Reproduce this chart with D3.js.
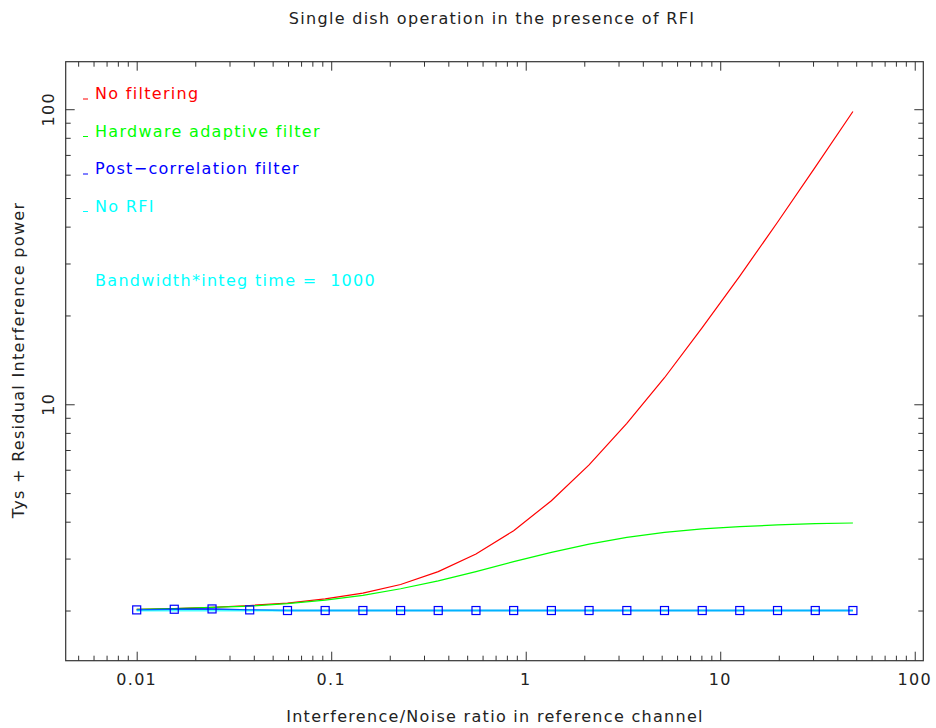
<!DOCTYPE html>
<html>
<head>
<meta charset="utf-8">
<script src="https://cdn.jsdelivr.net/npm/d3@7"></script>
<style>
  body { margin: 0; background: #fff; }
  text { font-family: "DejaVu Sans", sans-serif; letter-spacing: 1.3px; }
</style>
</head>
<body>
<script>
// interference/noise ratio at each computed point
const ratio = [0.01, 0.0156, 0.0244, 0.0381, 0.0596, 0.0931, 0.1455, 0.2274, 0.355, 0.555,
  0.867, 1.355, 2.117, 3.31, 5.17, 8.08, 12.6, 19.7, 30.8, 48.1];
const noFiltering = [2.02, 2.03, 2.05, 2.08, 2.12, 2.19, 2.29, 2.45, 2.71, 3.11,
  3.73, 4.71, 6.23, 8.62, 12.3, 18.2, 27.2, 41.4, 63.6, 98.2];
const hardwareFilter = [2.02, 2.03, 2.05, 2.07, 2.11, 2.17, 2.25, 2.37, 2.52, 2.71,
  2.93, 3.15, 3.36, 3.54, 3.68, 3.78, 3.85, 3.90, 3.94, 3.96];
const postCorrelation = [2.01, 2.02, 2.025, 2.01, 2.0, 2.0, 2.0, 2.0, 2.0, 2.0,
  2.0, 2.0, 2.0, 2.0, 2.0, 2.0, 2.0, 2.0, 2.0, 2.0];
const noRFI = [2.0, 2.0, 2.0, 2.0, 2.0, 2.0, 2.0, 2.0, 2.0, 2.0,
  2.0, 2.0, 2.0, 2.0, 2.0, 2.0, 2.0, 2.0, 2.0, 2.0];

const legendLabels = ["No filtering", "Hardware adaptive filter", "Post\u2212correlation filter", "No RFI"];
const legendColors = ["#ff0000", "#00ff00", "#0000ff", "#00ffff"];
const xTickLabels = ["0.01", "0.1", "1", "10", "100"];
const yTickLabels = ["10", "100"];

const margin = { top: 61.7, bottom: 67.3, left: 65.7, right: 12.7 };
const width = 936 - margin.left - margin.right;
const height = 728 - margin.top - margin.bottom;

const svg = d3.select("body").append("svg").attr("width", 936).attr("height", 728);
const g = svg.append("g").attr("transform", `translate(${margin.left}, ${margin.top})`);

const xscale = d3.scaleLog().domain([Math.pow(10, -2.365), Math.pow(10, 2.044)]).range([0, width]);
const yscale = d3.scaleLog().domain([Math.pow(10, 0.131), Math.pow(10, 2.161)]).range([height, 0]);

// minor ticks = 2..9 inside each visible decade
const minorTicks = (scale) => {
  const [a, b] = scale.domain();
  const out = [];
  for (let e = Math.floor(Math.log10(a)); e <= Math.ceil(Math.log10(b)); e++) {
    for (let m = 2; m <= 9; m++) {
      const v = m * Math.pow(10, e);
      if (v > a && v < b) out.push(v);
    }
  }
  return out;
};
const xMajor = xTickLabels.map(Number);
const yMajor = yTickLabels.map(Number);
const axisColor = "#333";

// frame
g.append("rect").attr("width", width).attr("height", height)
  .attr("fill", "none").attr("stroke", axisColor).attr("stroke-width", 1.2);

const addTicks = (axis, values, len, transform) => {
  const a = g.append("g").attr("transform", transform).call(axis.tickValues(values).tickSize(len).tickFormat(""));
  a.select(".domain").remove();
  a.selectAll("line").attr("stroke", axisColor);
};
// inward ticks on all four sides
addTicks(d3.axisBottom(xscale), xMajor, -9, `translate(0,${height})`);
addTicks(d3.axisBottom(xscale), minorTicks(xscale), -5, `translate(0,${height})`);
addTicks(d3.axisTop(xscale), xMajor, -9, "translate(0,0)");
addTicks(d3.axisTop(xscale), minorTicks(xscale), -5, "translate(0,0)");
addTicks(d3.axisLeft(yscale), yMajor, -9, "translate(0,0)");
addTicks(d3.axisLeft(yscale), minorTicks(yscale), -5, "translate(0,0)");
addTicks(d3.axisRight(yscale), yMajor, -9, `translate(${width},0)`);
addTicks(d3.axisRight(yscale), minorTicks(yscale), -5, `translate(${width},0)`);

// tick labels
g.selectAll(".xlab").data(xTickLabels).join("text")
  .attr("x", (d) => xscale(+d)).attr("y", height + 24)
  .attr("text-anchor", "middle").attr("font-size", 16).attr("fill", "#222")
  .text((d) => d);
g.selectAll(".ylab").data(yTickLabels).join("text")
  .attr("transform", (d) => `translate(-12,${yscale(+d)}) rotate(-90)`)
  .attr("text-anchor", "middle").attr("font-size", 16).attr("fill", "#222")
  .text((d) => d);

// titles
svg.append("text").attr("x", 492).attr("y", 24).attr("text-anchor", "middle")
  .attr("font-size", 16).attr("fill", "#222").text("Single dish operation in the presence of RFI");
svg.append("text").attr("x", 495).attr("y", 722).attr("text-anchor", "middle")
  .attr("font-size", 16).attr("fill", "#222").text("Interference/Noise ratio in reference channel");
svg.append("text").attr("transform", "translate(24,360) rotate(-90)").attr("text-anchor", "middle")
  .attr("font-size", 16).attr("fill", "#222").text("Tys + Residual Interference power");

// lines
const line = (vals) => d3.line().x((d, i) => xscale(ratio[i])).y((d) => yscale(d))(vals);
g.append("path").attr("d", line(noFiltering)).attr("fill", "none").attr("stroke", "#ff0000").attr("stroke-width", 1.2);
g.append("path").attr("d", line(hardwareFilter)).attr("fill", "none").attr("stroke", "#00ff00").attr("stroke-width", 1.2);
g.append("path").attr("d", line(postCorrelation)).attr("fill", "none").attr("stroke", "#0000ff").attr("stroke-width", 1.5);
g.append("path").attr("d", line(noRFI)).attr("fill", "none").attr("stroke", "#00ffff").attr("stroke-width", 2)
  .attr("opacity", 0.7);

g.selectAll(".mark").data(postCorrelation).join("rect")
  .attr("x", (d, i) => xscale(ratio[i]) - 4).attr("y", (d) => yscale(d) - 4)
  .attr("width", 8).attr("height", 8)
  .attr("fill", "none").attr("stroke", "#0000ff").attr("stroke-width", 1.2);

// legend
const leg = svg.append("g");
legendLabels.forEach((lab, i) => {
  const y = 99 + i * 37.5;
  leg.append("line").attr("x1", 83).attr("x2", 88).attr("y1", y).attr("y2", y)
    .attr("stroke", legendColors[i]).attr("stroke-width", 1);
  leg.append("text").attr("x", 95).attr("y", y).attr("font-size", 16)
    .attr("fill", legendColors[i]).text(lab);
});
leg.append("text").attr("x", 95).attr("y", 286).attr("font-size", 16)
  .attr("fill", "#00ffff").attr("xml:space", "preserve").style("white-space", "pre")
  .text("Bandwidth*integ time =  1000");
</script>
</body>
</html>
